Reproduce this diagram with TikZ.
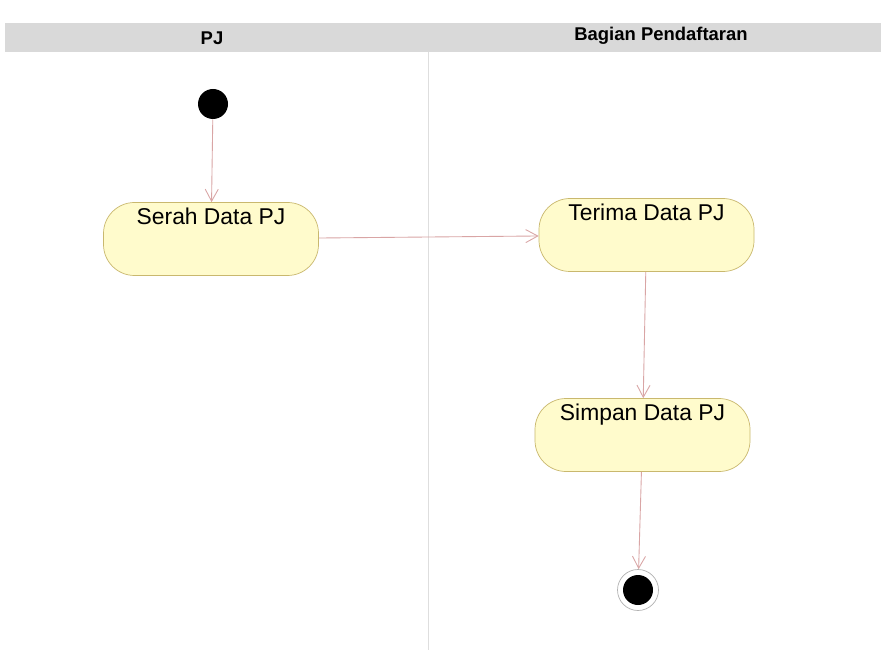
\documentclass[tikz,border=0pt]{standalone}
\usepackage{fontspec}
\setmainfont{Liberation Sans}
\usetikzlibrary{arrows.meta}

\definecolor{actfill}{HTML}{FFFBCC}
\definecolor{actline}{HTML}{C9B86E}
\definecolor{flow}{HTML}{D9A5A5}
\definecolor{lane}{HTML}{D9D9D9}

\tikzset{
  activity/.style={draw=actline,fill=actfill,rounded corners=0.62cm,
    minimum width=4.3cm,inner ysep=0.12cm,text height=0.32cm,text depth=0.9cm,
    font=\fontsize{13}{15}\selectfont},
  flowline/.style={draw=flow,line width=0.5pt,-{Straight Barb[length=2.4mm,width=2.6mm]}},
  lanetitle/.style={font=\bfseries\fontsize{10.5}{12}\selectfont}
}

\begin{document}
\begin{tikzpicture}
  \useasboundingbox (0,0) rectangle (17.62,-13.06);
  \fill[white] (0,0) rectangle (17.62,-13.06);
  \fill[lane] (0.1,-0.46) rectangle (17.62,-1.04);
  \node[lanetitle] (pj) at (4.24,-0.76) {PJ};
  \node[lanetitle] (bagian) at (13.22,-0.72) {Bagian Pendaftaran};
  \draw[lane!80!black!40,line width=0.4pt] (8.56,-1.04) -- (8.56,-13.0);
  \node[circle,fill=black,minimum size=0.6cm,inner sep=0pt] (start) at (4.26,-2.08) {};
  \node[activity] (serah) at (4.22,-4.78) {Serah Data PJ};
  \node[activity] (terima) at (12.93,-4.7) {Terima Data PJ};
  \node[activity] (simpan) at (12.85,-8.7) {Simpan Data PJ};
  \node[circle,draw=gray!60,line width=0.4pt,minimum size=0.82cm,inner sep=0pt] (end) at (12.76,-11.8) {};
  \fill[black] (end.center) circle (0.3);
  \draw[flowline] (start) -- (serah);
  \draw[flowline] (serah) -- (terima);
  \draw[flowline] (terima) -- (simpan);
  \draw[flowline] (simpan) -- (end);
\end{tikzpicture}
\end{document}
